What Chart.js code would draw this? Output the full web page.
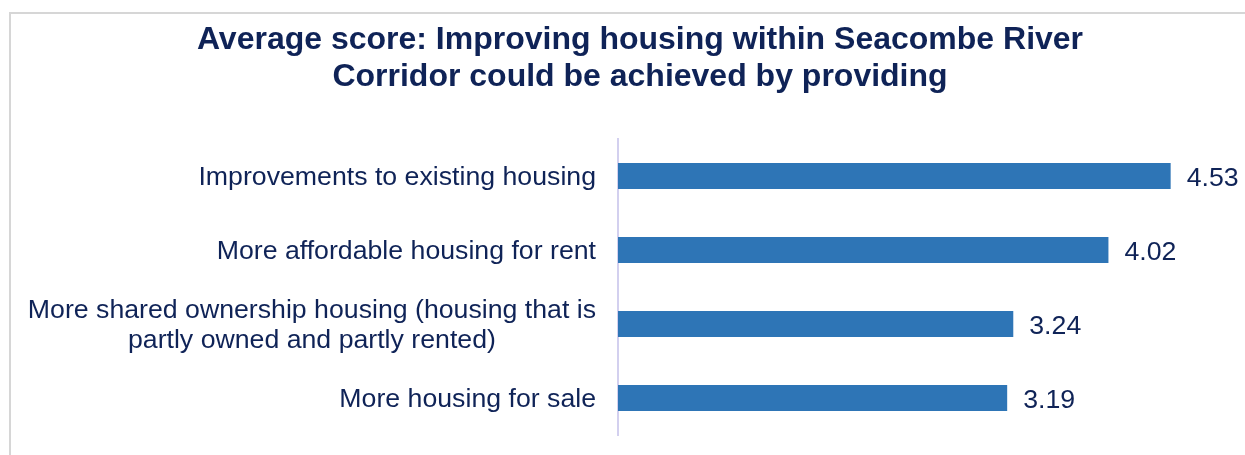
<!DOCTYPE html>
<html><head><meta charset="utf-8">
<script src="https://cdn.jsdelivr.net/npm/chart.js@4"></script>
<style>
html,body{margin:0;padding:0;background:#fff;overflow:hidden;width:1245px;height:455px;}
#frame{position:absolute;left:9px;top:12px;width:1300px;height:500px;border-left:2px solid #d6d6d6;border-top:2px solid #d6d6d6;}
#wrap{position:absolute;left:0;top:0;width:1280px;height:455px;}
</style></head><body>
<div id="frame"></div>
<div id="wrap"><canvas id="c" width="1280" height="455"></canvas></div>
<script>
const titleLines = ["Average score: Improving housing within Seacombe River", "Corridor could be achieved by providing"];
const categories = [
  ["Improvements to existing housing"],
  ["More affordable housing for rent"],
  ["More shared ownership housing (housing that is", "partly owned and partly rented)"],
  ["More housing for sale"]
];
const scores = [4.53, 4.02, 3.24, 3.19];
const axisMin = 0;
const axisMax = 5;

const TEXT = '#0f2357';
const BAR = '#2e75b6';
const FONT_FAMILY = '"Liberation Sans", Arial, sans-serif';
const LABEL_SIZE = 26.7;
const LABEL_PAD = 22;
const LINE_H = 30;
const BASE_OFF = 9.5;
const Y_AXIS_WIDTH = 566;

const yLabelPlugin = {
  id: 'yLabels',
  afterDraw(chart) {
    const ctx = chart.ctx, y = chart.scales.y;
    ctx.save();
    ctx.font = LABEL_SIZE + 'px ' + FONT_FAMILY;
    ctx.fillStyle = TEXT;
    ctx.textBaseline = 'alphabetic';
    ctx.textAlign = 'center';
    categories.forEach((lines, i) => {
      const cy = y.getPixelForTick(i);
      const blockW = Math.max(...lines.map(l => ctx.measureText(l).width));
      const cx = y.right - LABEL_PAD - blockW / 2;
      lines.forEach((l, j) => {
        ctx.fillText(l, cx, cy + BASE_OFF + (j - (lines.length - 1) / 2) * LINE_H);
      });
    });
    ctx.restore();
  }
};

const valuePlugin = {
  id: 'values',
  afterDatasetsDraw(chart) {
    const ctx = chart.ctx;
    const meta = chart.getDatasetMeta(0);
    ctx.save();
    ctx.font = LABEL_SIZE + 'px ' + FONT_FAMILY;
    ctx.fillStyle = TEXT;
    ctx.textBaseline = 'alphabetic';
    ctx.textAlign = 'left';
    meta.data.forEach((bar, i) => {
      ctx.fillText(scores[i].toFixed(2), bar.x + 16, bar.y + BASE_OFF + 0.5);
    });
    ctx.restore();
  }
};

new Chart(document.getElementById('c'), {
  type: 'bar',
  data: {
    labels: categories,
    datasets: [{
      data: scores,
      backgroundColor: BAR,
      borderWidth: 0,
      categoryPercentage: 1,
      barPercentage: 0.35
    }]
  },
  options: {
    indexAxis: 'y',
    responsive: false,
    animation: false,
    devicePixelRatio: 1,
    layout: { padding: { left: 52, right: 52, top: 0, bottom: 20 } },
    plugins: {
      legend: { display: false },
      tooltip: { enabled: false },
      title: {
        display: true,
        text: titleLines,
        color: TEXT,
        font: { family: FONT_FAMILY, size: 32, weight: 'bold', lineHeight: 1.145 },
        padding: { top: 22, bottom: 43.7 }
      }
    },
    scales: {
      x: { display: false, min: axisMin, max: axisMax },
      y: {
        display: true,
        grid: { display: false },
        ticks: { display: false },
        border: { display: true, color: '#d3d0ef', width: 2 },
        afterFit(scale) { scale.width = Y_AXIS_WIDTH; }
      }
    }
  },
  plugins: [yLabelPlugin, valuePlugin]
});
</script>
</body></html>
